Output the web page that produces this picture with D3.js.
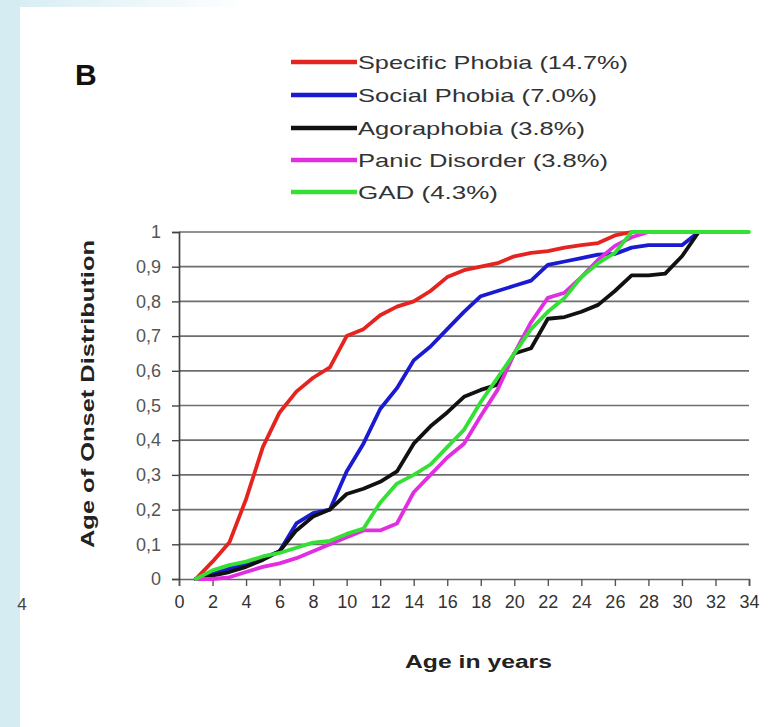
<!DOCTYPE html>
<html><head><meta charset="utf-8">
<script src="https://cdn.jsdelivr.net/npm/d3@7"></script>
<style>body{margin:0;background:#fff;} svg{display:block;font-family:"Liberation Sans",Arial,sans-serif;}</style>
</head><body>
<svg id="chart" width="771" height="727"></svg>
<script>
const ages = d3.range(1, 35);
const specificPhobia = [0,0.05,0.105,0.23,0.38,0.48,0.54,0.58,0.61,0.70,0.72,0.76,0.785,0.80,0.83,0.87,0.89,0.90,0.91,0.93,0.94,0.945,0.955,0.962,0.968,0.99,1.0];
const socialPhobia = [0,0.015,0.03,0.045,0.06,0.08,0.16,0.19,0.20,0.31,0.39,0.49,0.55,0.63,0.67,0.72,0.77,0.815,0.83,0.845,0.86,0.905,0.915,0.925,0.935,0.937,0.955,0.962,0.962,0.962,1.0];
const agoraphobia = [0,0.01,0.02,0.035,0.055,0.08,0.14,0.18,0.20,0.245,0.26,0.28,0.31,0.39,0.44,0.48,0.525,0.545,0.56,0.65,0.665,0.75,0.755,0.77,0.79,0.83,0.875,0.875,0.88,0.93,1.0];
const panicDisorder = [0,0,0.005,0.02,0.035,0.045,0.06,0.08,0.10,0.12,0.14,0.14,0.16,0.25,0.30,0.35,0.39,0.47,0.545,0.65,0.74,0.81,0.825,0.87,0.92,0.96,0.985,1.0];
const gad = [0,0.025,0.04,0.05,0.065,0.075,0.09,0.105,0.11,0.13,0.145,0.22,0.275,0.30,0.33,0.38,0.43,0.51,0.58,0.65,0.72,0.77,0.81,0.87,0.91,0.94,1.0,1.0,1.0,1.0,1.0,1.0,1.0,1.0];
const seriesNames = ["Specific Phobia (14.7%)","Social Phobia (7.0%)","Agoraphobia (3.8%)","Panic Disorder (3.8%)","GAD (4.3%)"];
const seriesColors = ["#e52420","#1a1ad0","#111111","#e02ee0","#34e034"];
const xTicks = d3.range(0, 35, 2);
const yTicks = d3.range(0, 11).map(i => i / 10);
const yTickLabels = ["0","0,1","0,2","0,3","0,4","0,5","0,6","0,7","0,8","0,9","1"];

const svg = d3.select("#chart");
const defs = svg.append("defs");
const grad = defs.append("linearGradient").attr("id","topfade").attr("x1","0").attr("x2","1");
grad.append("stop").attr("offset","0").attr("stop-color","#d5ecf3");
grad.append("stop").attr("offset","1").attr("stop-color","#ffffff");
svg.append("rect").attr("x",0).attr("y",0).attr("width",771).attr("height",727).attr("fill","#fff");
svg.append("rect").attr("x",0).attr("y",0).attr("width",250).attr("height",7).attr("fill","url(#topfade)");
svg.append("rect").attr("x",0).attr("y",0).attr("width",20).attr("height",727).attr("fill","#d5ecf3");

const x = d3.scaleLinear().domain([0, 34]).range([179, 749]);
const y = d3.scaleLinear().domain([0, 1]).range([579, 232]);

// gridlines
svg.append("g").selectAll("line").data(yTicks.slice(1)).join("line")
  .attr("x1", x(0)).attr("x2", x(34)).attr("y1", d => y(d)).attr("y2", d => y(d))
  .attr("stroke", "#6e6e6e").attr("stroke-width", 1.7);

// x axis
const xAxis = svg.append("g").attr("transform", `translate(0,${y(0)})`)
  .call(d3.axisBottom(x).tickValues(xTicks).tickSize(7).tickPadding(9).tickFormat(d3.format("d")));
xAxis.select(".domain").attr("stroke","#666").attr("stroke-width",1.7);
xAxis.selectAll(".tick line").attr("stroke","#555").attr("stroke-width",1.4);
xAxis.selectAll("text").attr("font-size","18px").attr("fill","#333")
  .attr("font-family","'Liberation Sans Narrow','Liberation Sans',Arial,sans-serif");

// y axis
const yAxis = svg.append("g").attr("transform", `translate(${x(0)},0)`)
  .call(d3.axisLeft(y).tickValues(yTicks).tickSize(7).tickPadding(11).tickFormat((d,i) => yTickLabels[i]));
yAxis.select(".domain").attr("stroke","#444").attr("stroke-width",1.7);
yAxis.selectAll(".tick line").attr("stroke","#444").attr("stroke-width",1.4);
yAxis.selectAll("text").attr("font-size","18px").attr("fill","#555");

// lines
const allSeries = [specificPhobia, socialPhobia, agoraphobia, panicDisorder, gad];
const line = d3.line().x((d,i) => x(ages[i])).y(d => y(d));
allSeries.forEach((s, k) => {
  svg.append("path").datum(s).attr("d", line).attr("fill","none")
    .attr("stroke", seriesColors[k]).attr("stroke-width", 3.8)
    .attr("stroke-linejoin","round").attr("stroke-linecap","round");
});

// legend
const legendY = [62, 95, 128, 160, 192];
const legendLen = [270, 239, 227, 250, 140];
const lg = svg.append("g");
seriesNames.forEach((n, k) => {
  lg.append("line").attr("x1", 291).attr("x2", 357).attr("y1", legendY[k]).attr("y2", legendY[k])
    .attr("stroke", seriesColors[k]).attr("stroke-width", 4.5);
  lg.append("text").attr("x", 358).attr("y", legendY[k]).attr("dy","0.36em")
    .attr("font-size","19px").attr("fill","#333")
    .attr("textLength", legendLen[k]).attr("lengthAdjust","spacingAndGlyphs").text(n);
});

// panel letter
svg.append("text").attr("x", 75).attr("y", 85).attr("font-size","30px").attr("font-weight","bold").attr("fill","#111").text("B");

// axis titles
svg.append("text").attr("x", 405).attr("y", 668)
  .attr("font-size","18px").attr("font-weight","bold").attr("fill","#222")
  .attr("textLength", 147).attr("lengthAdjust","spacingAndGlyphs").text("Age in years");
svg.append("text").attr("transform","translate(94,548) rotate(-90)")
  .attr("font-size","18px").attr("font-weight","bold").attr("fill","#222")
  .attr("textLength", 308).attr("lengthAdjust","spacingAndGlyphs").text("Age of Onset Distribution");

// stray cropped label fragment
svg.append("text").attr("x", 22).attr("y", 610).attr("text-anchor","middle")
  .attr("font-size","17px").attr("fill","#444").text("4");
</script>
</body></html>
